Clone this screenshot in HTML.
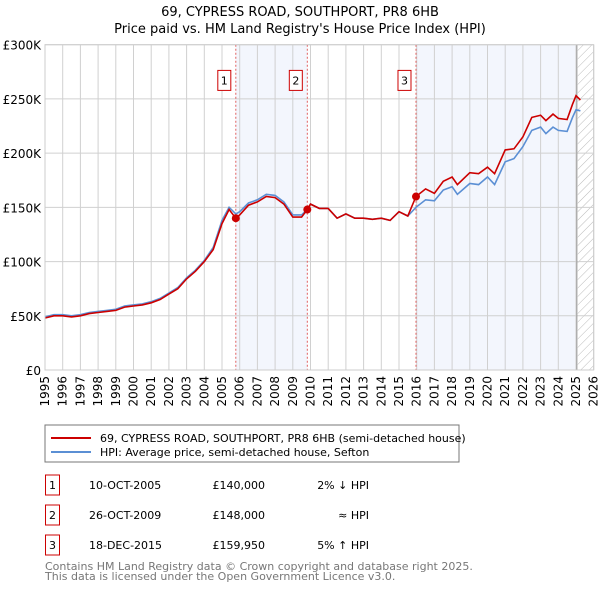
<!DOCTYPE html>
<html><head><meta charset="utf-8"><style>
body{margin:0;background:#fff;width:600px;height:590px;overflow:hidden;font-family:"DejaVu Sans","Liberation Sans",sans-serif;}
svg text{font-family:"DejaVu Sans","Liberation Sans",sans-serif;}
</style></head><body>
<svg id="c" width="600" height="590" viewBox="0 0 600 590" xmlns="http://www.w3.org/2000/svg">
<defs><pattern id="hatch" width="6" height="6" patternUnits="userSpaceOnUse" patternTransform="rotate(45)"><line x1="0" y1="0" x2="0" y2="6" stroke="#bbb" stroke-width="1"/></pattern></defs>
<text x="300" y="16" text-anchor="middle" font-size="13">69, CYPRESS ROAD, SOUTHPORT, PR8 6HB</text>
<text x="300" y="33" text-anchor="middle" font-size="13">Price paid vs. HM Land Registry's House Price Index (HPI)</text>
<g id="plot"></g>
<rect x="45" y="425" width="414" height="37" fill="#fff" stroke="#777"/>
<line x1="51" y1="438" x2="91" y2="438" stroke="#cc0000" stroke-width="2"/>
<text x="100" y="442" font-size="11">69, CYPRESS ROAD, SOUTHPORT, PR8 6HB (semi-detached house)</text>
<line x1="51" y1="452" x2="91" y2="452" stroke="#5b8fd4" stroke-width="2"/>
<text x="100" y="456" font-size="11">HPI: Average price, semi-detached house, Sefton</text>
<g id="table" font-size="11"></g>
<text x="45" y="570" font-size="11" fill="#777">Contains HM Land Registry data © Crown copyright and database right 2025.</text>
<text x="45" y="580" font-size="11" fill="#777">This data is licensed under the Open Government Licence v3.0.</text>
</svg>
<script>
const years=[1995,1995.5,1996,1996.5,1997,1997.5,1998,1998.5,1999,1999.5,2000,2000.5,2001,2001.5,2002,2002.5,2003,2003.5,2004,2004.5,2005,2005.4,2005.78,2006,2006.5,2007,2007.5,2008,2008.5,2009,2009.5,2009.82,2010,2010.5,2011,2011.5,2012,2012.5,2013,2013.5,2014,2014.5,2015,2015.5,2015.96,2016.5,2017,2017.5,2018,2018.3,2019,2019.5,2020,2020.4,2021,2021.5,2022,2022.5,2023,2023.3,2023.7,2024,2024.5,2024.8,2025,2025.25];
const hpiValues=[49,51,51,50,51,53,54,55,56,59,60,61,63,66,71,76,85,92,101,113,138,150,144,146,154,157,162,161,155,143,143,148,153,149,149,140,144,140,140,139,140,138,146,142,150,157,156,166,169,162,172,171,178,171,192,195,206,221,224,218,224,221,220,233,240,239];
const priceValues=[48,50,50,49,50,52,53,54,55,58,59,60,62,65,70,75,84,91,100,111,135,148,140,143,152,155,160,159,153,141,141,148,153,149,149,140,144,140,140,139,140,138,146,142,160,167,163,174,178,171,182,181,187,181,203,204,215,233,235,230,236,232,231,245,253,249];
const saleYears=[2005.78,2009.82,2015.96];
const saleValues=[140,148,159.95];
const saleLabels=["1","2","3"];
const yTicks=[0,50,100,150,200,250,300];
const yTickLabels=["£0","£50K","£100K","£150K","£200K","£250K","£300K"];
const xTicks=[1995,1996,1997,1998,1999,2000,2001,2002,2003,2004,2005,2006,2007,2008,2009,2010,2011,2012,2013,2014,2015,2016,2017,2018,2019,2020,2021,2022,2023,2024,2025,2026];
const rows=[["1","10-OCT-2005","£140,000","2% ↓ HPI"],["2","26-OCT-2009","£148,000","≈ HPI"],["3","18-DEC-2015","£159,950","5% ↑ HPI"]];
const X0=45,PX=17.7,Y0=370,PY=325.3/300;
const xs=y=>X0+(y-1995)*PX, ys=v=>Y0-v*PY;
const NS="http://www.w3.org/2000/svg";
const plot=document.getElementById('plot');
function mk(tag,attrs,parent){const e=document.createElementNS(NS,tag);for(const k in attrs)e.setAttribute(k,attrs[k]);(parent||plot).appendChild(e);return e;}
let r1=mk('rect',{x:xs(saleYears[0]),y:ys(300),width:xs(saleYears[1])-xs(saleYears[0]),height:ys(0)-ys(300),fill:'#f3f6fd'});


let r2=mk('rect',{x:xs(saleYears[2]),y:ys(300),width:xs(2025)-xs(saleYears[2]),height:ys(0)-ys(300),fill:'#f3f6fd'});


let hr=mk('rect',{x:xs(2025.1),y:ys(300),width:xs(2026)-xs(2025.1),height:ys(0)-ys(300),fill:'url(#hatch)'});


xTicks.forEach((t,i)=>{
 let l=mk('line',{x1:xs(t),x2:xs(t),y1:ys(300),y2:ys(0),stroke:'#d0d0d0'});
 
 
 let tx=mk('text',{x:0,y:0,'font-size':12,'text-anchor':'end',transform:`translate(${xs(t)+4},${ys(0)+6}) rotate(-90)`});
 tx.textContent=t;
 
 
});
yTicks.forEach((t,i)=>{
 let l=mk('line',{x1:xs(1995),x2:xs(2026),y1:ys(t),y2:ys(t),stroke:'#d0d0d0'});
 
 
 let tx=mk('text',{x:41,y:ys(t)+5,'font-size':12,'text-anchor':'end'});
 tx.textContent=yTickLabels[i];
 
 
});
let lv=mk('line',{x1:xs(2025.05),x2:xs(2025.05),y1:ys(300),y2:ys(0),stroke:'#999'});


saleYears.forEach((sy,i)=>{
 let l=mk('line',{x1:xs(sy),x2:xs(sy),y1:ys(300),y2:ys(0),stroke:'#e06060','stroke-dasharray':'2,2','stroke-width':1});
 
 
 let b=mk('rect',{x:xs(sy)-18,y:ys(268)-9,width:13,height:20,fill:'#fff',stroke:'#cc0000'});
 
 
 let t=mk('text',{x:xs(sy)-11.5,y:ys(268)+5,'font-size':11,'text-anchor':'middle'});
 t.textContent=saleLabels[i];
 
 
});
const pts=(vals)=>years.map((y,i)=>xs(y).toFixed(1)+','+ys(vals[i]).toFixed(1)).join(' ');
let hl=mk('polyline',{points:pts(hpiValues),fill:'none',stroke:'#5b8fd4','stroke-width':1.6});


let pl=mk('polyline',{points:pts(priceValues),fill:'none',stroke:'#cc0000','stroke-width':1.6});


saleYears.forEach((sy,i)=>{
 let c=mk('circle',{cx:xs(sy),cy:ys(saleValues[i]),r:4,fill:'#cc0000'});
 
 
});
let ax=mk('rect',{x:xs(1995),y:ys(300),width:xs(2026)-xs(1995),height:ys(0)-ys(300),fill:'none',stroke:'#ccc'});


const tb=document.getElementById('table');
rows.forEach((r,i)=>{
 const cy=485+i*30;
 let b=mk('rect',{x:45.5,y:cy-10,width:14,height:20,fill:'#fff',stroke:'#cc0000'},tb);
 
 
 let t=mk('text',{x:52.5,y:cy+4,'text-anchor':'middle'},tb);t.textContent=r[0];
 
 
 let d=mk('text',{x:89,y:cy+4},tb);d.textContent=r[1];
 
 
 let p=mk('text',{x:265,y:cy+4,'text-anchor':'end'},tb);p.textContent=r[2];
 
 
 let h=mk('text',{x:369,y:cy+4,'text-anchor':'end'},tb);h.textContent=r[3];
 
 
});
</script>
</body></html>
